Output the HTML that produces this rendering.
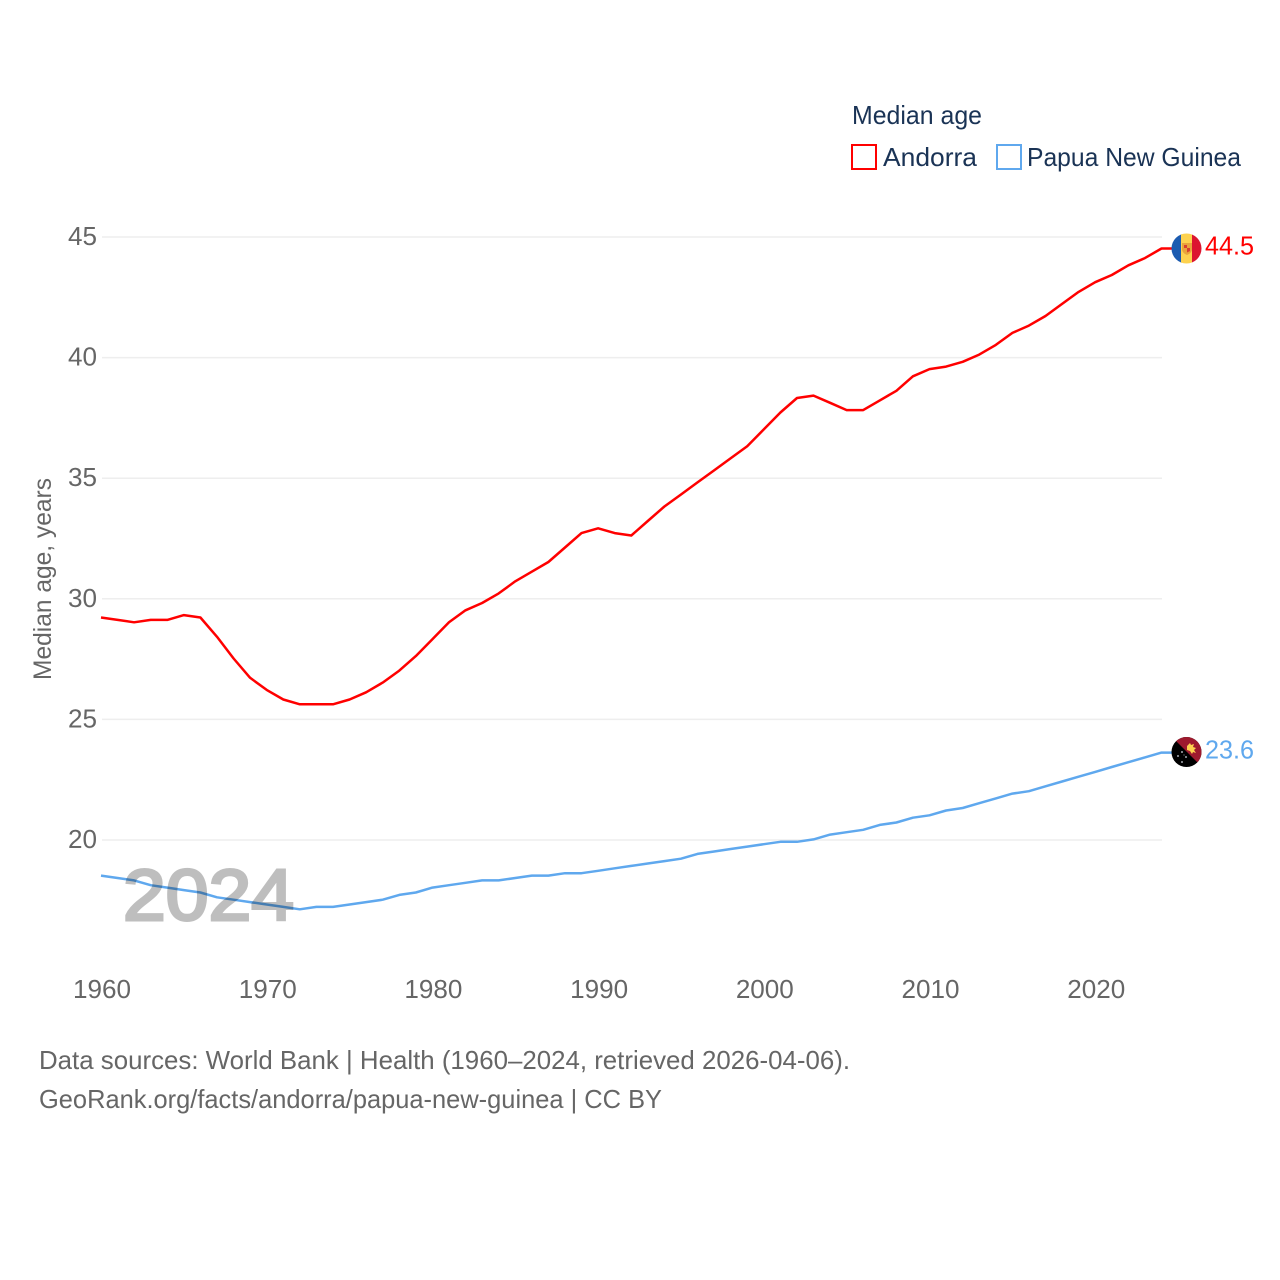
<!DOCTYPE html>
<html lang="en">
<head>
<meta charset="utf-8">
<title>Median age: Andorra and Papua New Guinea</title>
<style>
html,body{margin:0;padding:0;background:#fff;}
svg{display:block;font-family:"Liberation Sans",sans-serif;}
</style>
</head>
<body>
<svg id="chart" width="1280" height="1280" viewBox="0 0 1280 1280" xmlns="http://www.w3.org/2000/svg">
  <defs>
    <clipPath id="flag-clip-a"><circle cx="1186.5" cy="248.5" r="15"/></clipPath>
    <clipPath id="flag-clip-b"><circle cx="1186.5" cy="752" r="15"/></clipPath>
  </defs>
  <g id="grid"></g>
  <g id="ylabels"></g>
  <g id="xlabels"></g>
  <text transform="translate(51,680) rotate(-90)" font-size="25" fill="#666" textLength="202" lengthAdjust="spacingAndGlyphs">Median age, years</text>
  <g id="lines"></g>
  <text x="123" y="920" font-size="72" fill="#000" stroke="#000" stroke-width="3" opacity="0.25" textLength="171" lengthAdjust="spacingAndGlyphs">2024</text>

  <g clip-path="url(#flag-clip-a)">
    <rect x="1171" y="233" width="11" height="32" fill="#1c5bb0"/>
    <rect x="1181" y="233" width="11" height="32" fill="#fdd24f"/>
    <rect x="1192" y="233" width="11" height="32" fill="#dc1530"/>
    <path d="M1182 243h10v7q-1 3.500-5 5q-4-1.500-5-5z" fill="#e9a53c"/>
    <path d="M1184 245h3v3h-3zM1187 248h3v3l-3 1.500z" fill="#d8402f"/>
  </g>
  <g clip-path="url(#flag-clip-b)">
    <rect x="1171" y="736" width="32" height="32" fill="#000"/>
    <path d="M1171 736h32v32z" fill="#9e1a2e"/>
    <path d="M1187 746l3-3l1 2l3-1l-1 3l3 1l-2 2l2 3l-3-1l-1 2l-2-3l-3-1z" fill="#fdd24f"/>
    <g fill="#d8dde6">
      <circle cx="1182" cy="752" r="0.9"/><circle cx="1178" cy="756" r="0.9"/><circle cx="1186" cy="757" r="0.9"/><circle cx="1182" cy="762" r="0.9"/><circle cx="1184" cy="755" r="0.5"/>
    </g>
  </g>
  <g id="endlabels"></g>

  <g>
    <text x="852" y="124" font-size="26" fill="#1a3355" textLength="130" lengthAdjust="spacingAndGlyphs">Median age</text>
    <g>
      <rect x="852" y="145" width="24" height="24" fill="#fff" stroke="#ff0000" stroke-width="2"/>
      <text x="883" y="166" font-size="26" fill="#1a3355" textLength="94" lengthAdjust="spacingAndGlyphs">Andorra</text>
    </g>
    <g>
      <rect x="997" y="145" width="24" height="24" fill="#fff" stroke="#5fa8ee" stroke-width="2"/>
      <text x="1027" y="166" font-size="26" fill="#1a3355" textLength="214" lengthAdjust="spacingAndGlyphs">Papua New Guinea</text>
    </g>
  </g>

  <text x="39" y="1069" font-size="26" fill="#666" textLength="811" lengthAdjust="spacingAndGlyphs">Data sources: World Bank | Health (1960–2024, retrieved 2026-04-06).</text>
  <text x="39" y="1108" font-size="26" fill="#666" textLength="623" lengthAdjust="spacingAndGlyphs">GeoRank.org/facts/andorra/papua-new-guinea | CC BY</text>
</svg>
<script>
const years = [];
for (let year = 1960; year <= 2024; year++) years.push(year);
const andorra = [29.2,29.1,29.0,29.1,29.1,29.3,29.2,28.4,27.5,26.7,26.2,25.8,25.6,25.6,25.6,25.8,26.1,26.5,27.0,27.6,28.3,29.0,29.5,29.8,30.2,30.7,31.1,31.5,32.1,32.7,32.9,32.7,32.6,33.2,33.8,34.3,34.8,35.3,35.8,36.3,37.0,37.7,38.3,38.4,38.1,37.8,37.8,38.2,38.6,39.2,39.5,39.6,39.8,40.1,40.5,41.0,41.3,41.7,42.2,42.7,43.1,43.4,43.8,44.1,44.5];
const papuaNewGuinea = [18.5,18.4,18.3,18.1,18.0,17.9,17.8,17.6,17.5,17.4,17.3,17.2,17.1,17.2,17.2,17.3,17.4,17.5,17.7,17.8,18.0,18.1,18.2,18.3,18.3,18.4,18.5,18.5,18.6,18.6,18.7,18.8,18.9,19.0,19.1,19.2,19.4,19.5,19.6,19.7,19.8,19.9,19.9,20.0,20.2,20.3,20.4,20.6,20.7,20.9,21.0,21.2,21.3,21.5,21.7,21.9,22.0,22.2,22.4,22.6,22.8,23.0,23.2,23.4,23.6];
const yTicks = [20,25,30,35,40,45];
const xTicks = [1960,1970,1980,1990,2000,2010,2020];

const NS = 'http://www.w3.org/2000/svg';
function xScale(year){ return 102 + (year - 1960) * (1060.5 / 64); }
function yScale(value){ return 840 - (value - 20) * (603 / 25); }

function make(tag, attrs, parent, text){
  const el = document.createElementNS(NS, tag);
  for (const key in attrs) el.setAttribute(key, attrs[key]);
  if (text !== undefined) el.textContent = text;
  parent.appendChild(el);
  return el;
}

const grid = document.getElementById('grid');
const ylabels = document.getElementById('ylabels');
const xlabels = document.getElementById('xlabels');
const lines = document.getElementById('lines');
const endlabels = document.getElementById('endlabels');

yTicks.forEach(function(t){
  const gl = make('line', {x1:102, x2:1162, y1:yScale(t), y2:yScale(t), stroke:'#eeeeee', 'stroke-width':1.5}, grid);
  
  
  const lb = make('text', {x:97, y:yScale(t)+8, 'font-size':26, fill:'#666', 'text-anchor':'end', textLength:29, lengthAdjust:'spacingAndGlyphs'}, ylabels, String(t));
  
  
});

xTicks.forEach(function(t){
  const lb = make('text', {x:xScale(t), y:998, 'font-size':26, fill:'#666', 'text-anchor':'middle', textLength:58, lengthAdjust:'spacingAndGlyphs'}, xlabels, String(t));
  
  
});

function drawSeries(values, color, name){
  const last = values.length - 1;
  const pts = values.map(function(v, i){ return (xScale(years[i]) - 1).toFixed(1) + ',' + (yScale(v) - 0.6).toFixed(1); });
  pts.push('1172,' + (yScale(values[last]) - 0.6).toFixed(1));
  const line = make('polyline', {points:pts.join(' '), fill:'none', stroke:color, 'stroke-width':2.5, 'stroke-linejoin':'round'}, lines);
  
  
  const label = make('text', {x:1205, y:yScale(values[last])+5.5, 'font-size':26, fill:color, textLength:49, lengthAdjust:'spacingAndGlyphs'}, endlabels, values[last].toFixed(1));
  
  
}
drawSeries(andorra, '#ff0000', 'andorra');
drawSeries(papuaNewGuinea, '#5fa8ee', 'papua-new-guinea');
</script>
</body>
</html>
